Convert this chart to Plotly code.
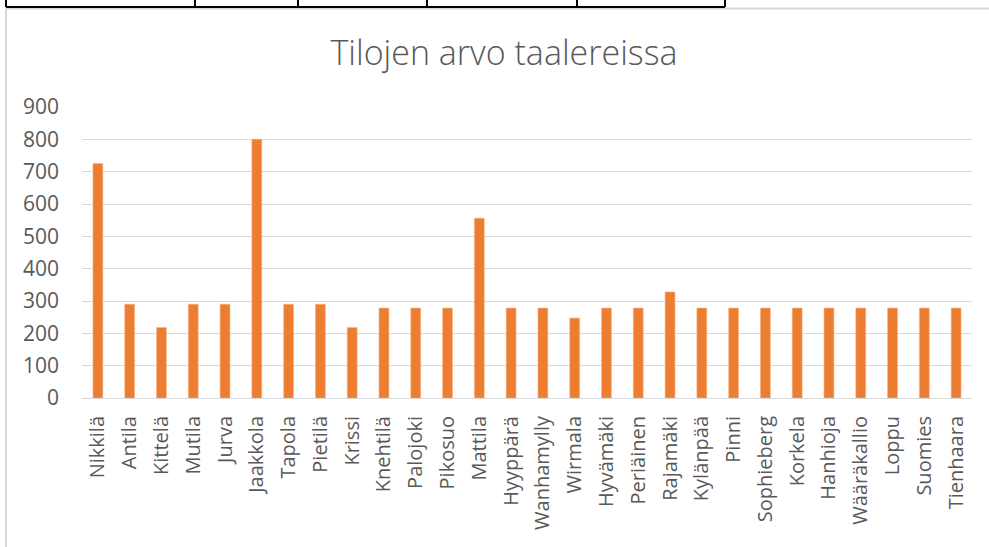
import plotly.graph_objects as go

categories = ["Nikkilä", "Antila", "Kittelä", "Mutila", "Jurva", "Jaakkola", "Tapola",
              "Pietilä", "Krissi", "Knehtilä", "Palojoki", "Pikosuo", "Mattila",
              "Hyyppärä", "Wanhamylly", "Wirmala", "Hyvämäki", "Periäinen", "Rajamäki",
              "Kylänpää", "Pinni", "Sophieberg", "Korkela", "Hanhioja", "Wääräkallio",
              "Loppu", "Suomies", "Tienhaara"]
values = [725, 290, 218, 290, 290, 800, 290,
          290, 218, 278, 278, 278, 556,
          278, 278, 247, 278, 278, 328,
          278, 278, 278, 278, 278, 278,
          278, 278, 278]
title_text = "Tilojen arvo taalereissa"
y_ticks = list(range(0, 1000, 100))

W, H = 989, 547
L, R, T, B = 82, 989 - 972, 107, 547 - 398

fig = go.Figure(go.Bar(
    x=categories, y=values,
    marker=dict(color="#ED7D31", line=dict(color="#F4B183", width=0.6)),
    width=0.31,
))

font_main = "Open Sans, Segoe UI, sans-serif"
grey = "#595959"

fig.update_layout(
    width=W, height=H, autosize=False,
    margin=dict(l=L, r=R, t=T, b=B, pad=0),
    paper_bgcolor="white", plot_bgcolor="white",
    showlegend=False,
    title=dict(text=title_text, x=504 / W, xref="container", xanchor="center",
               y=1 - 53 / H, yref="container", yanchor="middle",
               font=dict(family=font_main, size=34, color=grey, weight=300)),
    xaxis=dict(type="category", tickangle=-90, showgrid=False, showline=False,
               ticks="", tickfont=dict(family=font_main, size=20, color=grey),
               ticklabelstandoff=13, range=[-0.5, len(categories) - 0.5]),
    yaxis=dict(range=[0, 900], tickvals=y_ticks, showgrid=True, gridcolor="#d9d9d9",
               gridwidth=1.3, zeroline=True, zerolinecolor="#d9d9d9", zerolinewidth=1.3,
               showline=False, ticks="", tickfont=dict(family=font_main, size=21, color=grey),
               ticklabelstandoff=22),
)

# spreadsheet cell borders above the chart and the chart frame
shapes = []
def px_line(x0, y0, x1, y1, color, width):
    shapes.append(dict(type="line", xref="paper", yref="paper",
                       x0=(x0 - L) / (W - L - R), x1=(x1 - L) / (W - L - R),
                       y0=(H - B - y0) / (H - T - B), y1=(H - B - y1) / (H - T - B),
                       line=dict(color=color, width=width), layer="above"))

# chart frame (light grey)
px_line(6, 8.5, 989, 8.5, "#d9d9d9", 2)
px_line(6, 8.5, 6, 547, "#d9d9d9", 2)
# cell borders (black)
px_line(6, 7, 725, 7, "#000000", 2)
for xv in [6, 195, 298, 427, 577, 725]:
    px_line(xv, 0, xv, 7, "#000000", 2)

fig.update_layout(shapes=shapes)

fig.write_html("out.html", config={"displayModeBar": False},
               post_script="document.body.style.margin='0';document.body.style.overflow='hidden';")
